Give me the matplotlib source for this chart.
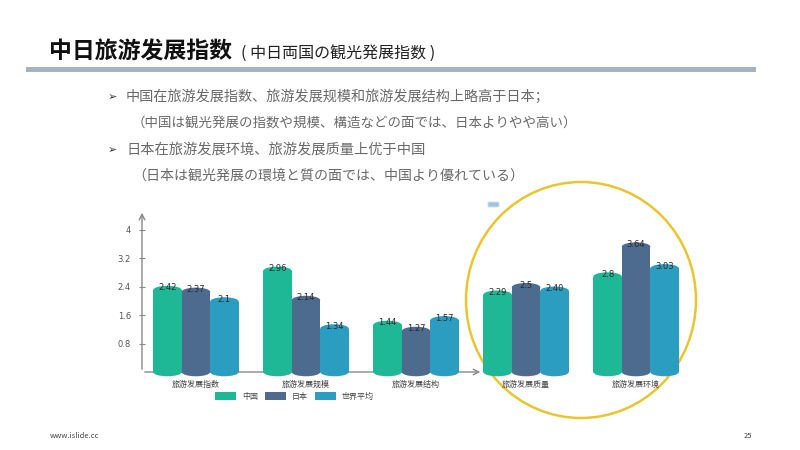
import matplotlib.pyplot as plt
from matplotlib.patches import Ellipse, Rectangle, FancyBboxPatch

plt.rcParams['font.family'] = ['Noto Sans CJK SC', 'DejaVu Sans']

categories = ['旅游发展指数', '旅游发展规模', '旅游发展结构', '旅游发展质量', '旅游发展环境']
series_names = ['中国', '日本', '世界平均']
china = [2.42, 2.96, 1.44, 2.29, 2.8]
japan = [2.37, 2.14, 1.27, 2.5, 3.64]
world = [2.1, 1.34, 1.57, 2.40, 3.03]
value_labels = [['2.42', '2.96', '1.44', '2.29', '2.8'],
                ['2.37', '2.14', '1.27', '2.5', '3.64'],
                ['2.1', '1.34', '1.57', '2.40', '3.03']]
yticks = [0.8, 1.6, 2.4, 3.2, 4]
colors = ['#1fb896', '#4d6a8f', '#2b9dc0']

fig = plt.figure(figsize=(8, 4.5), dpi=100)
fig.patch.set_facecolor('white')

# page overlay in pixel coords
page = fig.add_axes([0, 0, 1, 1])
page.set_xlim(0, 800)
page.set_ylim(450, 0)
page.axis('off')

page.text(49, 52, '中日旅游发展指数', fontsize=16.5, fontweight='bold', color='#111111', va='center')
page.text(241, 53, '( 中日両国の観光発展指数 )', fontsize=11.5, color='#222222', va='center')
page.add_patch(Rectangle((26, 67), 730, 5, color='#a7b1c2', lw=0))

bullets = [(True, '中国在旅游发展指数、旅游发展规模和旅游发展结构上略高于日本；', 97, 10.2),
           (False, '（中国は観光発展の指数や規模、構造などの面では、日本よりやや高い）', 124, 9.7),
           (True, '日本在旅游发展环境、旅游发展质量上优于中国', 150, 10.3),
           (False, '（日本は観光発展の環境と質の面では、中国より優れている）', 176, 10.1)]
for arrow, txt, y, fs in bullets:
    if arrow:
        page.text(108, y, '➢', fontsize=8, color='#333333', va='center', family='DejaVu Sans')
        page.text(126, y, txt, fontsize=fs, color='#6a6a6a', va='center')
    else:
        page.text(132, y, txt, fontsize=fs, color='#6a6a6a', va='center')

page.text(50, 436, 'www.islide.cc', fontsize=5.5, color='#444444', va='center')
page.text(752, 436, '25', fontsize=5.5, color='#444444', va='center', ha='right')

# chart
ax = fig.add_axes([142 / 800, (450 - 372) / 450, 548 / 800, 162 / 450])
ax.set_xlim(-0.49, 4.49)
ax.set_ylim(0, 4.55)
ax.patch.set_alpha(0)
for s in ['top', 'right', 'left', 'bottom']:
    ax.spines[s].set_visible(False)

bw = 0.259
cap = 0.24
series = [china, japan, world]
for si, vals in enumerate(series):
    for ci, v in enumerate(vals):
        xc = ci + (si - 1) * bw
        ax.bar(xc, v - cap / 2, width=bw, color=colors[si], lw=0, zorder=3)
        ax.add_patch(Ellipse((xc, v - cap / 2), bw, cap, color=colors[si], lw=0, zorder=3))
        ax.add_patch(Ellipse((xc, 0), bw, cap, color=colors[si], lw=0, zorder=3, clip_on=False))
        ax.text(xc, v - 0.06, value_labels[si][ci], fontsize=6, color='#2a2a2a',
                ha='center', va='center', zorder=4, family='DejaVu Sans')

# axes with arrows
ax.annotate('', xy=(-0.49, 4.55), xytext=(-0.49, 0), xycoords='data',
            arrowprops=dict(arrowstyle='->', color='#888888', lw=1), annotation_clip=False)
ax.annotate('', xy=(2.61, 0), xytext=(-0.49, 0),
            arrowprops=dict(arrowstyle='->', color='#888888', lw=1), annotation_clip=False, zorder=2)
ax.set_xticks([])
ax.set_yticks(yticks)
ax.set_yticklabels([f'{t:g}' for t in yticks], fontsize=6, color='#555555', family='DejaVu Sans')
ax.tick_params(axis='y', length=4, color='#888888', direction='inout', pad=6)

for ci, c in enumerate(categories):
    ax.text(ci, -0.36, c, fontsize=5.8, color='#444444', ha='center', va='center')

# legend
for i, name in enumerate(series_names):
    x0 = 215 + i * 50
    page.add_patch(Rectangle((x0, 392), 21, 8, color=colors[i], lw=0))
    page.text(x0 + 27, 396, name, fontsize=5.8, color='#444444', va='center')

# highlight circle and small icon
page.add_patch(Ellipse((581, 300), 230, 236, fill=False, ec='#e9c630', lw=1.8))
page.add_patch(FancyBboxPatch((489, 203), 9, 3, boxstyle='round,pad=0.8',
                              fc='#9ec3e0', ec='#c0d4e6', lw=0.8))

fig.savefig('out.png', dpi=100)
